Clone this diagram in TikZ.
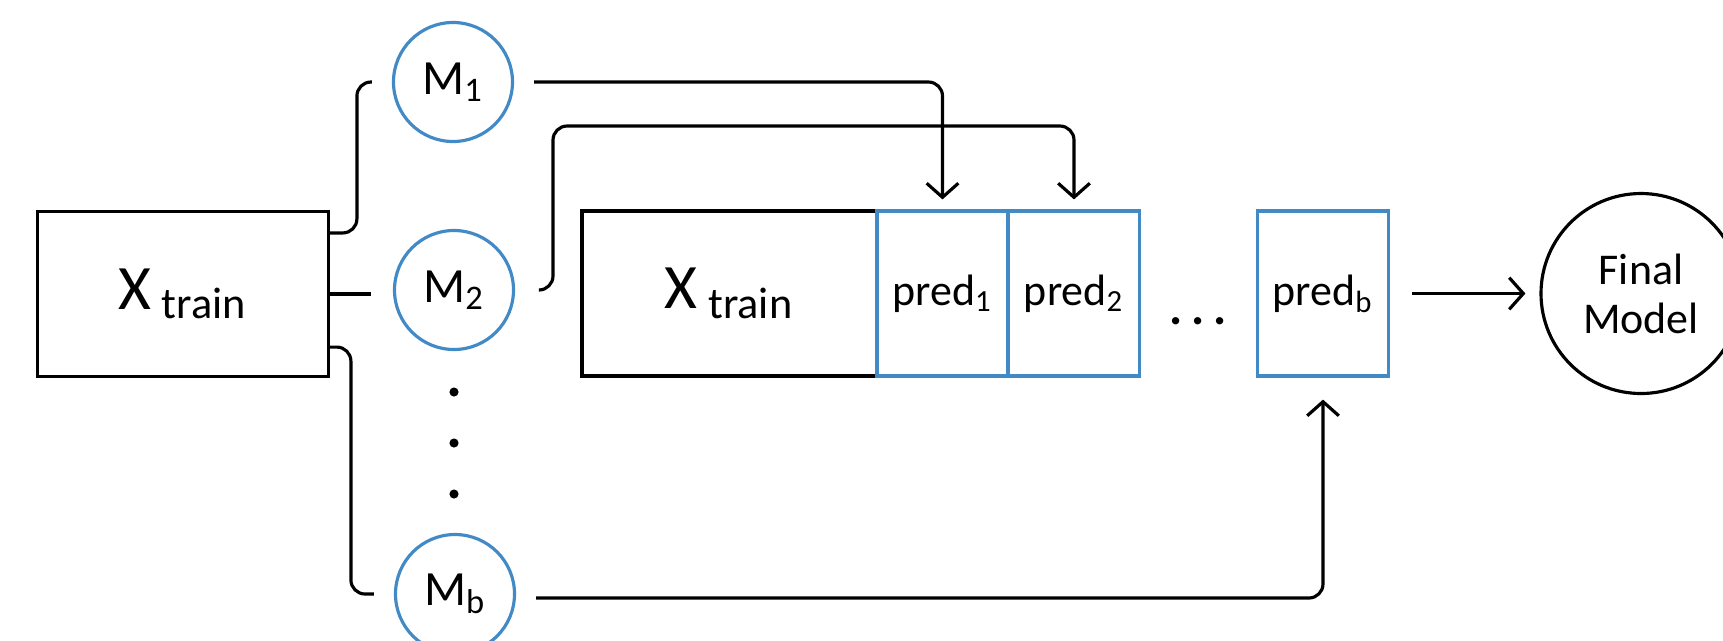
\documentclass[tikz,border=0pt]{standalone}
\usepackage{fontspec}
\setmainfont{Carlito}
\usetikzlibrary{arrows.meta}
\definecolor{modelblue}{RGB}{66,138,198}

\tikzset{
  databox/.style={rectangle, draw, line width=0.9pt, minimum height=1.65cm, inner sep=0pt},
  predbox/.style={databox, draw=modelblue, minimum width=1.31cm, font=\fontsize{12.5}{15}\selectfont},
  modelnode/.style={circle, draw=modelblue, line width=0.9pt, minimum size=1.19cm, inner sep=0pt},
  link/.style={line width=0.9pt, rounded corners=4pt},
}

\begin{document}
\begin{tikzpicture}[>={Straight Barb[length=4pt,width=9pt]}, font=\fontsize{14}{16}\selectfont]
\useasboundingbox (0,0) rectangle (17.23,-6.4);
\clip (0,0) rectangle (17.23,-6.4);

% Training set and base models
\node[databox, minimum width=2.91cm] (xleft) at (1.83,-2.94) {\fontsize{18}{20}\selectfont X\,\textsubscript{train}};
\node[modelnode] (m1) at (4.53,-0.82) {M\textsubscript{1}};
\node[modelnode] (m2) at (4.54,-2.90) {M\textsubscript{2}};
\node[modelnode] (mb) at (4.55,-5.94) {M\textsubscript{b}};
\foreach \y in {3.92,4.43,4.94}
  \fill (4.54,-\y) circle (1.3pt);

% Stacked features
\node[databox, minimum width=2.95cm] (xmid) at (7.295,-2.935) {\fontsize{18}{20}\selectfont X\,\textsubscript{train}};
\node[predbox] (pred1) at (9.425,-2.935) {pred\textsubscript{1}};
\node[predbox] (pred2) at (10.74,-2.935) {pred\textsubscript{2}};
\node (hdots) at (11.98,-3.21) {\bfseries .\hspace{0.09cm}.\hspace{0.09cm}.};
\node[predbox] (predb) at (13.23,-2.935) {pred\textsubscript{b}};
\node[circle, draw, line width=0.9pt, minimum size=2.0cm, align=center, font=\fontsize{12.5}{14}\selectfont] (final) at (16.41,-2.935) {Final\\Model};

% Training set to the models
\draw[link] ([yshift=-0.23cm]xleft.north east) -| ([xshift=-0.35cm]m1.west) -- ([xshift=-0.2cm]m1.west);
\draw[link, shorten >=0.22cm] (xleft.east) -- (xleft.east -| m2.west);
\draw[link] ([yshift=0.31cm]xleft.south east) -| ([xshift=-0.43cm]mb.west) -- ([xshift=-0.2cm]mb.west);

% Predictions into the new features
\coordinate (turn2) at (5.53,-1.26);
\draw[link, ->] ([xshift=0.2cm]m1.east) -| ([yshift=0.1cm]pred1.north);
\draw[link, ->] ([xshift=0.25cm]m2.east) -| (turn2) -| ([yshift=0.1cm]pred2.north);
\draw[link, ->] ([shift={(0.2cm,-0.04cm)}]mb.east) -| ([yshift=-0.22cm]predb.south);
\draw[link, ->, shorten <=0.22cm, shorten >=0.14cm] (predb) -- (final);
\end{tikzpicture}
\end{document}
